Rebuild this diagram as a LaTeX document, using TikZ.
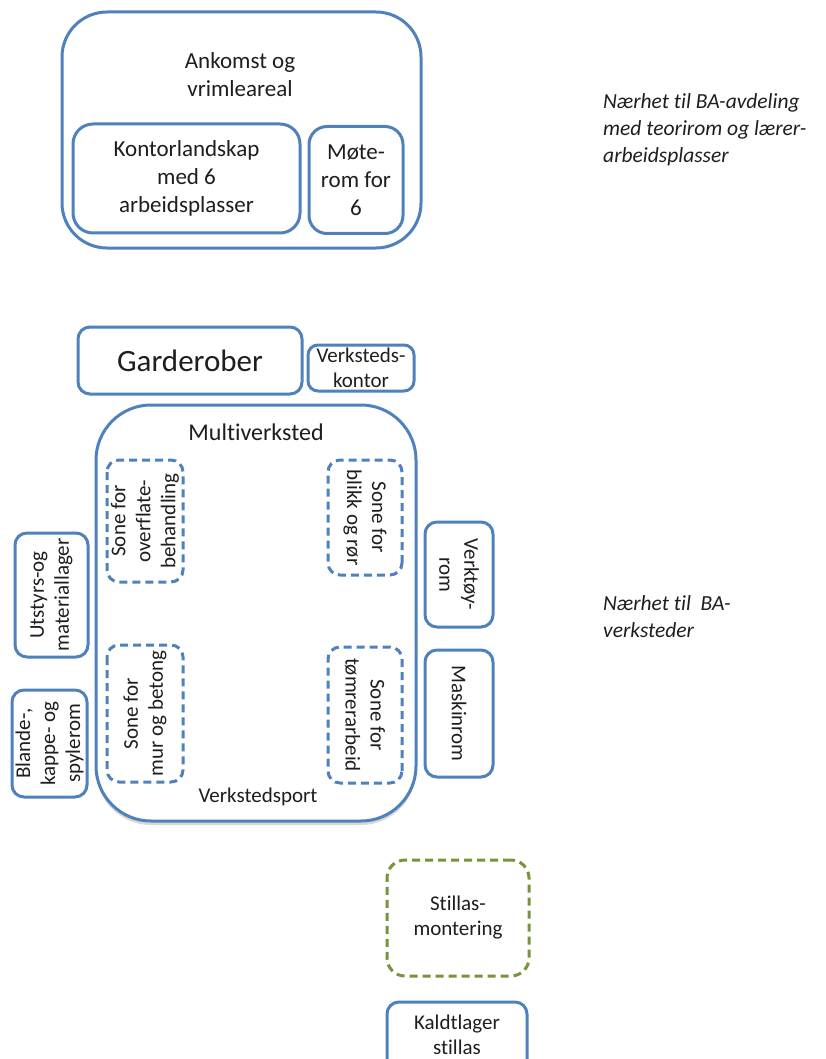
\documentclass[tikz,border=0pt]{standalone}
\usepackage{fontspec}
\setmainfont{Carlito}[RawFeature={-liga;-clig;-dlig;-calt}]
\usetikzlibrary{shadows}
\definecolor{ob}{RGB}{79,129,189}
\definecolor{og}{RGB}{119,147,60}
\definecolor{tx}{RGB}{30,30,30}
\begin{document}
\begin{tikzpicture}[x=1pt,y=-1pt,
  box/.style={draw=ob, line width=3pt, rounded corners=12pt, inner sep=0pt, align=center, text=tx},
  zone/.style={box, dash pattern=on 8pt off 5pt},
  gzone/.style={zone, draw=og, rounded corners=18pt},
  big/.style={font=\fontsize{23}{28}\selectfont},
  mid/.style={font=\fontsize{21}{25}\selectfont},
  note/.style={font=\fontsize{21.5}{27}\selectfont\itshape, align=left, anchor=west, text=tx, inner sep=0pt},
  lbl/.style={inner sep=0pt, align=center, text=tx}]
\useasboundingbox (0,0) rectangle (826,1059);
\fill[white] (0,0) rectangle (826,1059);
% top group
\node[box, rounded corners=45pt, minimum width=359pt, minimum height=236pt] (ank) at (241.5,130) {};
\node[lbl, big] (anktxt) at (240,75) {Ankomst og\\vrimleareal};
\node[box, big, rounded corners=20pt, minimum width=227pt, minimum height=109pt] (kontor) at (186.5,178.5) {Kontorlandskap\\med 6\\arbeidsplasser};
\node[box, big, rounded corners=18pt, minimum width=94pt, minimum height=107pt] (mote) at (356,180) {Møte-\\rom for\\6};
\node[note] (n1) at (603,130) {Nærhet til BA-avdeling\\med teorirom og lærer-\\arbeidsplasser};
% garderober
\node[box, font=\fontsize{31}{36}\selectfont, minimum width=224pt, minimum height=67pt] (gard) at (190,360.5) {Garderober};
\node[box, mid, rounded corners=10pt, minimum width=106pt, minimum height=46pt] (vkontor) at (361,368) {Verksteds-\\kontor};
% multiverksted
\node[box, rounded corners=55pt, minimum width=320pt, minimum height=416pt,
  drop shadow={shadow xshift=0pt, shadow yshift=-4pt, opacity=0.3, fill=black!50}, fill=white] (multi) at (256,613) {};
\node[lbl, font=\fontsize{24}{28}\selectfont] (multitxt) at (256,432) {Multiverksted};
\node[lbl, mid] (port) at (258,797) {Verkstedsport};
\node[zone, mid, rotate=90, minimum width=122pt, minimum height=76pt] (z1) at (145,521) {Sone for\\overflate-\\behandling};
\node[zone, mid, rotate=90, minimum width=137pt, minimum height=76pt] (z2) at (145,713.5) {Sone for\\mur og betong};
\node[zone, mid, rotate=-90, minimum width=115pt, minimum height=74pt] (z3) at (365,517.5) {Sone for\\blikk og rør};
\node[zone, mid, rotate=-90, minimum width=136pt, minimum height=74pt] (z4) at (365,715) {Sone for\\tømrerarbeid};
% left boxes
\node[box, mid, rotate=90, minimum width=124pt, minimum height=73pt] (utstyr) at (51.5,595) {Utstyrs-og\\materiallager};
\node[box, mid, rotate=90, minimum width=107pt, minimum height=75pt] (blande) at (49.5,743.5) {Blande-,\\kappe- og\\spylerom};
% right boxes
\node[box, mid, rotate=-90, minimum width=105pt, minimum height=68pt] (verktoy) at (459,574.5) {Verktøy-\\rom};
\node[box, mid, rotate=-90, minimum width=127pt, minimum height=68pt] (maskin) at (459,713.5) {Maskinrom};
\node[note] (n2) at (603,617) {Nærhet til\ \ BA-\\verksteder};
% bottom
\node[gzone, mid, minimum width=142pt, minimum height=116pt] (stillas) at (458,918) {Stillas-\\montering};
\node[box, minimum width=140pt, minimum height=70pt] (kald) at (457,1037) {};
\node[lbl, mid] (kaldtxt) at (457,1034.5) {Kaldtlager\\stillas};
\end{tikzpicture}
\end{document}
